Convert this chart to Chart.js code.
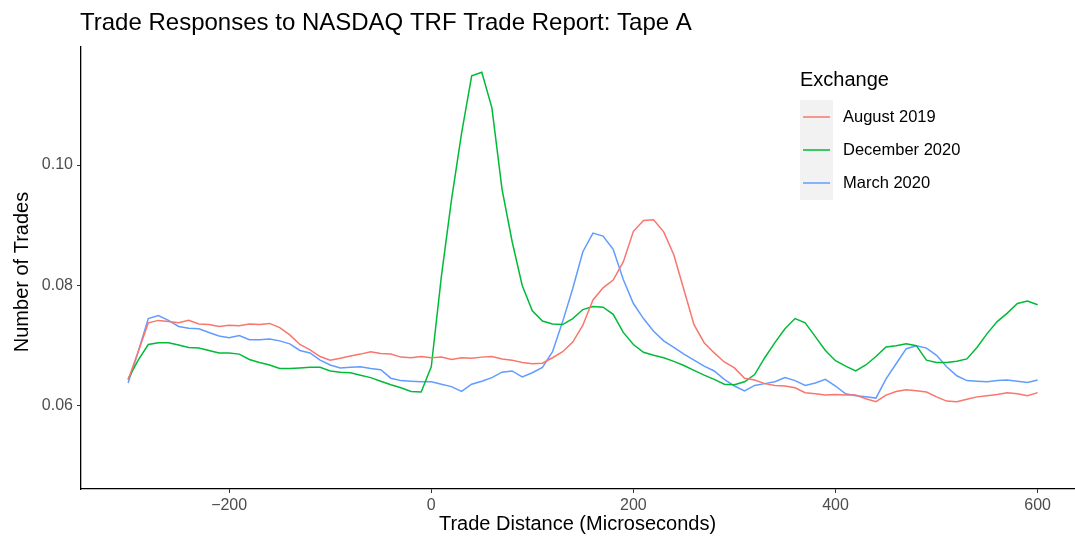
<!DOCTYPE html>
<html>
<head>
<meta charset="utf-8">
<script src="https://cdn.jsdelivr.net/npm/chart.js@4"></script>
<style>
  body { margin: 0; background: #fff; }
</style>
</head>
<body>
<canvas id="tradeChart" width="1075" height="539"></canvas>
<script>
// trade distance in microseconds, shared by all three series
var xValues = [];
for (var d = -300; d <= 600; d += 10) xValues.push(d);

var aug2019 = [
  0.0643, 0.0690, 0.0738, 0.0742, 0.0740, 0.0738, 0.0742, 0.0736, 0.0735, 0.0732,
  0.0734, 0.0733, 0.0736, 0.0735, 0.0737, 0.0730, 0.0718, 0.0702, 0.0693, 0.0682,
  0.0676, 0.0679, 0.0683, 0.0686, 0.0690, 0.0687, 0.0686, 0.0681, 0.0680, 0.0682,
  0.0680, 0.0681, 0.0677, 0.0680, 0.0679, 0.0681, 0.0682, 0.0678, 0.0676, 0.0672,
  0.0670, 0.0671, 0.0680, 0.0690, 0.0706, 0.0734, 0.0776, 0.0796, 0.0809, 0.0839,
  0.0890, 0.0908, 0.0909, 0.0889, 0.0851, 0.0793, 0.0735, 0.0705, 0.0688, 0.0673,
  0.0663, 0.0646, 0.0643, 0.0637, 0.0634, 0.0633, 0.0630, 0.0622, 0.0620, 0.0618,
  0.0619, 0.0618, 0.0618, 0.0612, 0.0607, 0.0618, 0.0624, 0.0627, 0.0625, 0.0623,
  0.0615, 0.0608, 0.0607, 0.0611, 0.0615, 0.0617, 0.0619, 0.0622, 0.0620, 0.0617,
  0.0622
];
var dec2020 = [
  0.0645, 0.0676, 0.0702, 0.0705, 0.0705, 0.0701, 0.0697, 0.0696, 0.0692, 0.0688,
  0.0688, 0.0686, 0.0677, 0.0672, 0.0668, 0.0662, 0.0662, 0.0663, 0.0664, 0.0664,
  0.0658, 0.0656, 0.0655, 0.0651, 0.0647, 0.0641, 0.0635, 0.0630, 0.0624, 0.0623,
  0.0665, 0.0815, 0.0942, 0.1053, 0.1148, 0.1154, 0.1095, 0.0960, 0.0873, 0.0800,
  0.0758, 0.0741, 0.0736, 0.0735, 0.0745, 0.0760, 0.0765, 0.0764, 0.0752, 0.0722,
  0.0702, 0.0689, 0.0684, 0.0680, 0.0674, 0.0667, 0.0659, 0.0651, 0.0644, 0.0636,
  0.0635, 0.0640, 0.0652, 0.0680, 0.0705, 0.0728, 0.0745, 0.0738, 0.0715, 0.0692,
  0.0675, 0.0666, 0.0658, 0.0668, 0.0682, 0.0698, 0.0700, 0.0703, 0.0700, 0.0676,
  0.0672, 0.0672, 0.0674, 0.0678, 0.0697, 0.0720, 0.0740, 0.0754, 0.0770, 0.0774,
  0.0768
];
var mar2020 = [
  0.0638, 0.0690, 0.0745, 0.0750, 0.0742, 0.0732, 0.0729, 0.0728, 0.0722, 0.0716,
  0.0713, 0.0717, 0.0710, 0.0710, 0.0711, 0.0708, 0.0703, 0.0692, 0.0688, 0.0676,
  0.0668, 0.0663, 0.0664, 0.0665, 0.0662, 0.0660, 0.0646, 0.0642, 0.0641, 0.0640,
  0.0640, 0.0636, 0.0632, 0.0624, 0.0636, 0.0641, 0.0647, 0.0656, 0.0658, 0.0648,
  0.0655, 0.0664, 0.0690, 0.0740, 0.0795, 0.0856, 0.0887, 0.0882, 0.0860, 0.0810,
  0.0770, 0.0745, 0.0724, 0.0708, 0.0697, 0.0686, 0.0676, 0.0666, 0.0658, 0.0644,
  0.0633, 0.0625, 0.0634, 0.0637, 0.0640, 0.0647, 0.0642, 0.0634, 0.0638, 0.0644,
  0.0633, 0.0620, 0.0617, 0.0615, 0.0613, 0.0645, 0.0670, 0.0695, 0.0700, 0.0696,
  0.0684, 0.0665, 0.0650, 0.0642, 0.0641, 0.0640, 0.0642, 0.0643, 0.0641, 0.0639,
  0.0643
];

var seriesNames = ["August 2019", "December 2020", "March 2020"];
var seriesColors = ["#F8766D", "#00BA38", "#619CFF"];
var xTicks = [-200, 0, 200, 400, 600];
var yTicks = [0.06, 0.08, 0.10];

var FONT = "'Liberation Sans', Arial, sans-serif";

function toPoints(vals) {
  return vals.map(function (v, i) { return { x: xValues[i], y: v }; });
}

/*---------------------------- titles and legend drawn by hand ----------------------------*/
var extras = {
  id: "extras",
  afterDraw: function (chart) {
    var ctx = chart.ctx;
    var area = chart.chartArea;
    ctx.save();
    ctx.fillStyle = "#000";
    ctx.textBaseline = "middle";

    ctx.font = "24px " + FONT;
    ctx.textAlign = "left";
    ctx.fillText("Trade Responses to NASDAQ TRF Trade Report: Tape A", 80, 23);

    ctx.font = "20px " + FONT;
    ctx.textAlign = "center";
    ctx.fillText("Trade Distance (Microseconds)", (area.left + area.right) / 2, 524);
    ctx.save();
    ctx.translate(22, 272);
    ctx.rotate(-Math.PI / 2);
    ctx.fillText("Number of Trades", 0, 0);
    ctx.restore();

    // legend
    ctx.textAlign = "left";
    ctx.font = "20px " + FONT;
    ctx.fillText("Exchange", 800, 80);
    ctx.fillStyle = "#F2F2F2";
    ctx.fillRect(800, 100, 33, 100);
    ctx.font = "16.5px " + FONT;
    for (var i = 0; i < seriesNames.length; i++) {
      var y = 117 + i * 33;
      ctx.strokeStyle = seriesColors[i];
      ctx.lineWidth = 1.5;
      ctx.beginPath();
      ctx.moveTo(803, y);
      ctx.lineTo(830, y);
      ctx.stroke();
      ctx.fillStyle = "#000";
      ctx.fillText(seriesNames[i], 843, y);
    }
    ctx.restore();
  }
};

new Chart("tradeChart", {
  type: "line",
  data: {
    datasets: [
      { label: seriesNames[0], data: toPoints(aug2019), borderColor: seriesColors[0] },
      { label: seriesNames[1], data: toPoints(dec2020), borderColor: seriesColors[1] },
      { label: seriesNames[2], data: toPoints(mar2020), borderColor: seriesColors[2] }
    ]
  },
  options: {
    responsive: false,
    animation: false,
    layout: { padding: { top: 47, right: 1, left: 0, bottom: 0 } },
    elements: {
      point: { radius: 0 },
      line: { borderWidth: 1.5, tension: 0 }
    },
    plugins: {
      legend: { display: false },
      tooltip: { enabled: false }
    },
    scales: {
      x: {
        type: "linear",
        min: -346.6,
        max: 636,
        afterFit: function (s) { s.height = 50; },
        afterBuildTicks: function (s) { s.ticks = xTicks.map(function (v) { return { value: v }; }); },
        grid: { drawOnChartArea: false, drawTicks: true, tickLength: 4, color: "#333" },
        border: { color: "#000", width: 1.3 },
        ticks: {
          color: "#4D4D4D",
          font: { size: 16, family: FONT },
          padding: 3,
          maxRotation: 0,
          callback: function (v) { return v < 0 ? "\u2212" + Math.abs(v) : String(v); }
        }
      },
      y: {
        min: 0.0462,
        max: 0.1196,
        afterFit: function (s) { s.width = 81; },
        afterBuildTicks: function (s) { s.ticks = yTicks.map(function (v) { return { value: v }; }); },
        grid: { drawOnChartArea: false, drawTicks: true, tickLength: 4, color: "#333" },
        border: { color: "#000", width: 1.3 },
        ticks: {
          color: "#4D4D4D",
          font: { size: 16, family: FONT },
          padding: 4,
          callback: function (v) { return v.toFixed(2); }
        }
      }
    }
  },
  plugins: [extras]
});
</script>
</body>
</html>
